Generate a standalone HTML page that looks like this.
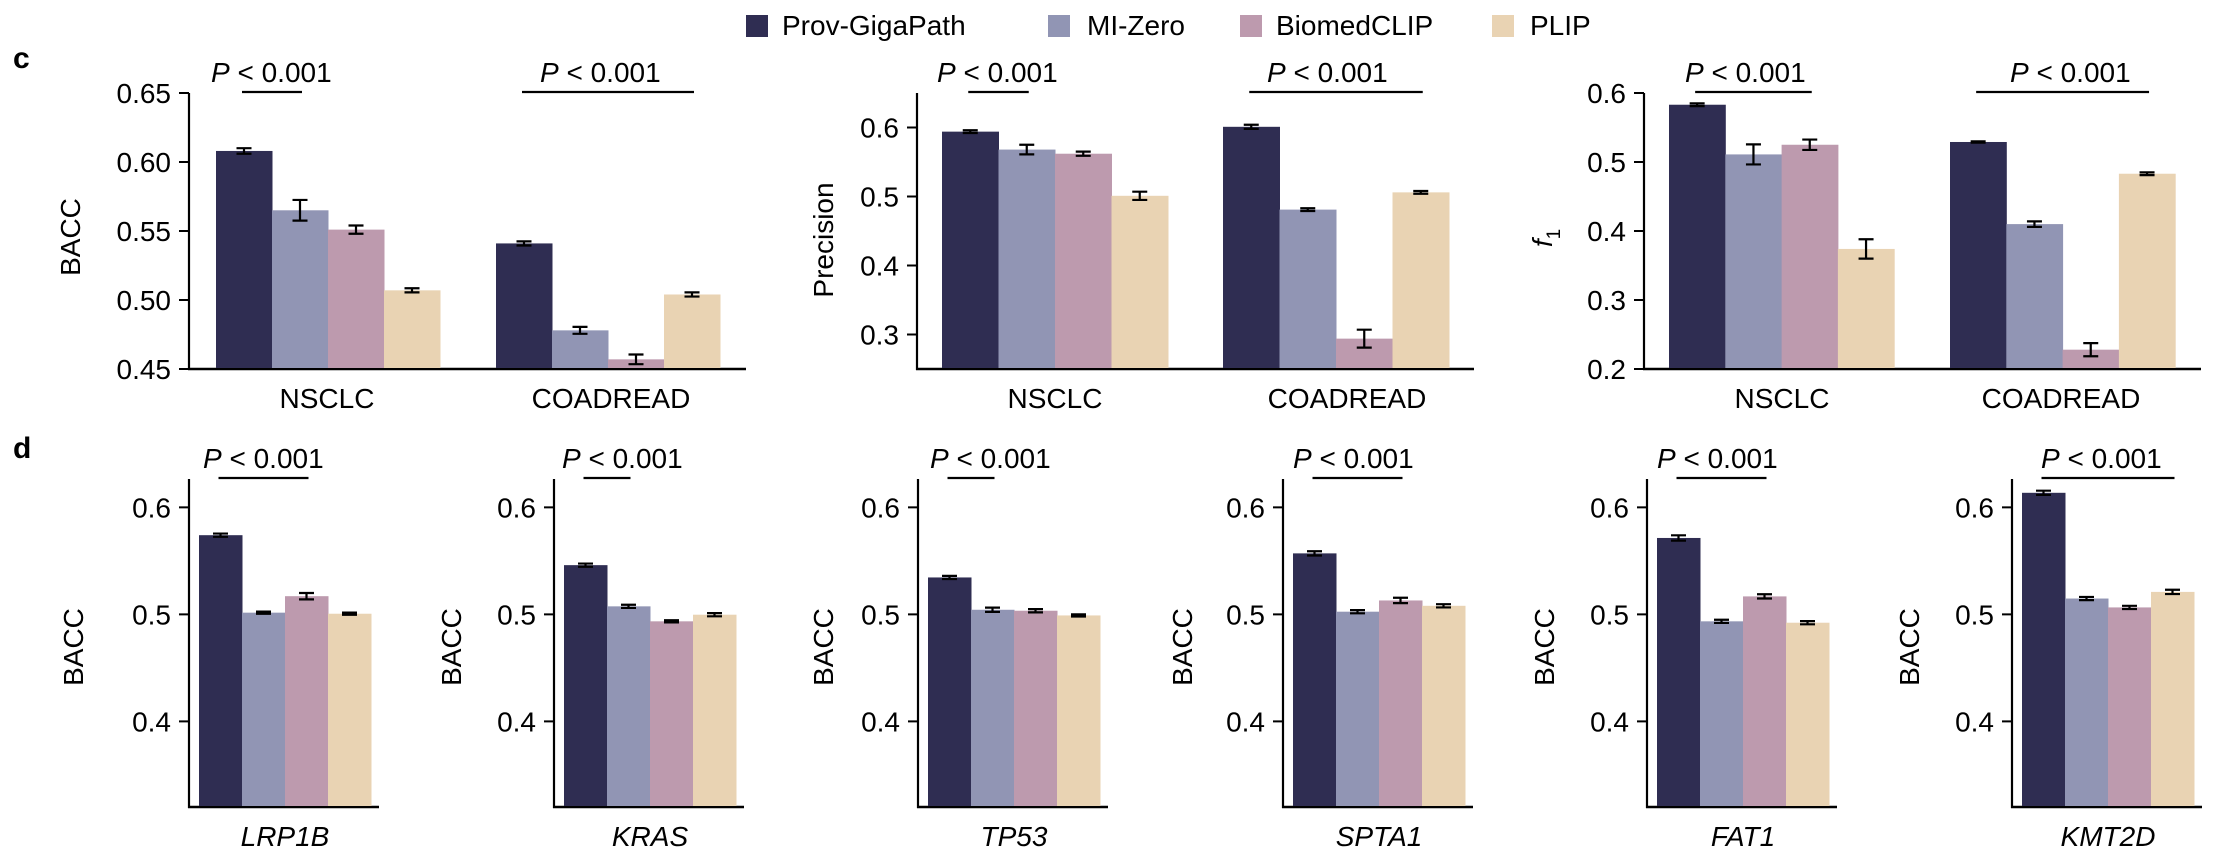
<!DOCTYPE html>
<html><head><meta charset="utf-8"><style>
html,body{margin:0;padding:0;background:#fff;}
svg{display:block;font-family:"Liberation Sans",Arial,sans-serif;}
</style></head><body>
<svg id="chart" width="2224" height="866" viewBox="0 0 2224 866" xmlns="http://www.w3.org/2000/svg">
<g>
 <rect x="746" y="15" width="22" height="22" fill="#2f2d52"/>
 <text x="782" y="35" font-size="28">Prov-GigaPath</text>
 <rect x="1048" y="15" width="22" height="22" fill="#9195b4"/>
 <text x="1087" y="35" font-size="28">MI-Zero</text>
 <rect x="1240" y="15" width="22" height="22" fill="#bd9aae"/>
 <text x="1276" y="35" font-size="28">BiomedCLIP</text>
 <rect x="1492" y="15" width="22" height="22" fill="#e9d3b3"/>
 <text x="1530" y="35" font-size="28">PLIP</text>
</g>
<text x="13" y="68" font-size="30" font-weight="bold">c</text>
<text x="13" y="458" font-size="30" font-weight="bold">d</text>
</svg>
<script>
const colors = ["#2f2d52","#9195b4","#bd9aae","#e9d3b3"];
const models = ["prov-gigapath","mi-zero","biomedclip","plip"];
// Panel c: categories and values
const cCategories = ["NSCLC","COADREAD"];
const baccNSCLC = [0.608,0.565,0.551,0.507];
const baccNSCLCErr = [0.002,0.0075,0.003,0.0015];
const baccCOAD = [0.541,0.478,0.457,0.504];
const baccCOADErr = [0.0015,0.0025,0.0035,0.0015];
const precNSCLC = [0.594,0.568,0.562,0.501];
const precNSCLCErr = [0.002,0.007,0.003,0.006];
const precCOAD = [0.601,0.481,0.294,0.506];
const precCOADErr = [0.003,0.002,0.013,0.002];
const f1NSCLC = [0.583,0.511,0.525,0.374];
const f1NSCLCErr = [0.002,0.0145,0.0075,0.014];
const f1COAD = [0.529,0.410,0.228,0.483];
const f1COADErr = [0.001,0.004,0.0095,0.002];
const baccTicks = ["0.45","0.50","0.55","0.60","0.65"];
const precTicks = ["0.3","0.4","0.5","0.6"];
const f1Ticks = ["0.2","0.3","0.4","0.5","0.6"];
// Panel d: genes and values
const genes = ["LRP1B","KRAS","TP53","SPTA1","FAT1","KMT2D"];
const geneVals = [
 [0.574,0.5016,0.517,0.5006],
 [0.546,0.5075,0.4935,0.4997],
 [0.5345,0.5043,0.5034,0.499],
 [0.557,0.5025,0.513,0.508],
 [0.5714,0.4935,0.5168,0.4922],
 [0.6136,0.5148,0.5065,0.521]];
const geneErr = [
 [0.0015,0.001,0.003,0.001],
 [0.0015,0.0015,0.001,0.0015],
 [0.0015,0.002,0.0015,0.001],
 [0.002,0.0015,0.0025,0.0015],
 [0.0025,0.0015,0.002,0.0015],
 [0.002,0.0015,0.0015,0.002]];
const geneTicks = ["0.4","0.5","0.6"];
const geneSigEnd = [2,1,1,2,2,3];

const svg = document.getElementById('chart');
const NS = "http://www.w3.org/2000/svg";
function mk(tag, attrs, parent){
  const e = document.createElementNS(NS, tag);
  for (const k in attrs) e.setAttribute(k, attrs[k]);
  (parent||svg).appendChild(e); return e;
}
function drawPanel(p){
  const g = mk('g', {});
  
  
  const y = v => p.yBot - (v - p.vMin) / (p.vMax - p.vMin) * (p.yBot - p.yTop);
  // axes
  const ya = mk('line', {x1:p.ax, x2:p.ax, y1:p.yTop, y2:p.yBot+1, stroke:'#000','stroke-width':2.2}, g);
  
  
  const xa = mk('line', {x1:p.ax-1, x2:p.xEnd, y1:p.yBot, y2:p.yBot, stroke:'#000','stroke-width':2.5}, g);
  
  
  p.ticks.forEach(t => {
    const v = parseFloat(t), yy = y(v);
    const tl = mk('line', {x1:p.ax-10, x2:p.ax, y1:yy, y2:yy, stroke:'#000','stroke-width':2}, g);
    
    
    const tt = mk('text', {x:p.ax-18, y:yy+10, 'font-size':28, 'text-anchor':'end'}, g);
    tt.textContent = t;
    
    
  });
  const yl = mk('text', {transform:`translate(${p.labelX},${p.labelY}) rotate(-90)`, 'font-size':28, 'text-anchor':'middle'}, g);
  
  
  if (p.yLabel === 'f1') {
    yl.innerHTML = '<tspan font-style="italic">f</tspan><tspan font-size="19" dy="8">1</tspan>';
  } else yl.textContent = p.yLabel;
  p.groups.forEach((grp) => {
    grp.vals.forEach((v, i) => {
      const x = grp.x0 + i * p.bw;
      const r = mk('rect', {x:x, y:y(v), width:p.bw+0.5, height:p.yBot - y(v) - 1, fill:colors[i]}, g);
      
      
      const cx = x + p.bw/2, e = grp.err[i], hw = 7.5;
      const eb = mk('path', {d:`M${cx-hw},${y(v+e)}H${cx+hw}M${cx},${y(v+e)}V${y(v-e)}M${cx-hw},${y(v-e)}H${cx+hw}`, stroke:'#000','stroke-width':2.2, fill:'none'}, g);
      
      
    });
    const c0 = grp.x0 + p.bw/2, c1 = grp.x0 + p.bw*(grp.sigEnd+0.5);
    const sl = mk('line', {x1:c0-2, x2:c1+2, y1:p.yTop-1, y2:p.yTop-1, stroke:'#000','stroke-width':2.2}, g);
    
    
    const pt = mk('text', {x:grp.pX, y:p.yTop-11, 'font-size':28}, g);
    pt.innerHTML = '<tspan font-style="italic">P</tspan> &lt; 0.001';
    
    
    const ct = mk('text', {x:grp.catX, y:p.yBot+39, 'font-size':28, 'text-anchor':'middle', 'font-style':p.italicCat?'italic':'normal'}, g);
    ct.textContent = grp.cat;
    
    
  });
}
// Panel c
const cPanels = [
 {name:'panel-c-bacc', ax:189, xEnd:746, yTop:93, yBot:369, vMin:0.45, vMax:0.65, ticks:baccTicks, yLabel:'BACC', labelX:80, labelY:237, bw:56,
  groups:[{cat:cCategories[0], x0:216, vals:baccNSCLC, err:baccNSCLCErr, sigEnd:1, pX:211, catX:327},
          {cat:cCategories[1], x0:496, vals:baccCOAD, err:baccCOADErr, sigEnd:3, pX:540, catX:611}]},
 {name:'panel-c-precision', ax:917, xEnd:1474, yTop:93, yBot:369, vMin:0.25, vMax:0.65, ticks:precTicks, yLabel:'Precision', labelX:833, labelY:240, bw:56.5,
  groups:[{cat:cCategories[0], x0:942, vals:precNSCLC, err:precNSCLCErr, sigEnd:1, pX:937, catX:1055},
          {cat:cCategories[1], x0:1223, vals:precCOAD, err:precCOADErr, sigEnd:3, pX:1267, catX:1347}]},
 {name:'panel-c-f1', ax:1644, xEnd:2201, yTop:93, yBot:369, vMin:0.2, vMax:0.6, ticks:f1Ticks, yLabel:'f1', labelX:1552, labelY:238, bw:56.3,
  groups:[{cat:cCategories[0], x0:1669, vals:f1NSCLC, err:f1NSCLCErr, sigEnd:2, pX:1685, catX:1782},
          {cat:cCategories[1], x0:1950, vals:f1COAD, err:f1COADErr, sigEnd:3, pX:2010, catX:2061}]}
];
cPanels.forEach(drawPanel);
// Panel d
const dAxes = [189,554,918,1283,1647,2012];
const dLabelOff = [-106,-93,-85,-91,-93,-93];
const dPX = [203,562,930,1293,1657,2041];
genes.forEach((gname, k) => {
  const ax = dAxes[k];
  drawPanel({name:'panel-d-' + gname.toLowerCase(), ax:ax, xEnd:ax+190, yTop:479, yBot:807, vMin:0.32, vMax:0.6265, ticks:geneTicks,
    yLabel:'BACC', labelX:ax+dLabelOff[k], labelY:647, bw:43, italicCat:true,
    groups:[{cat:gname, x0:ax+10, vals:geneVals[k], err:geneErr[k], sigEnd:geneSigEnd[k], pX:dPX[k], catX:ax+96}]});
});
</script>
</body></html>
